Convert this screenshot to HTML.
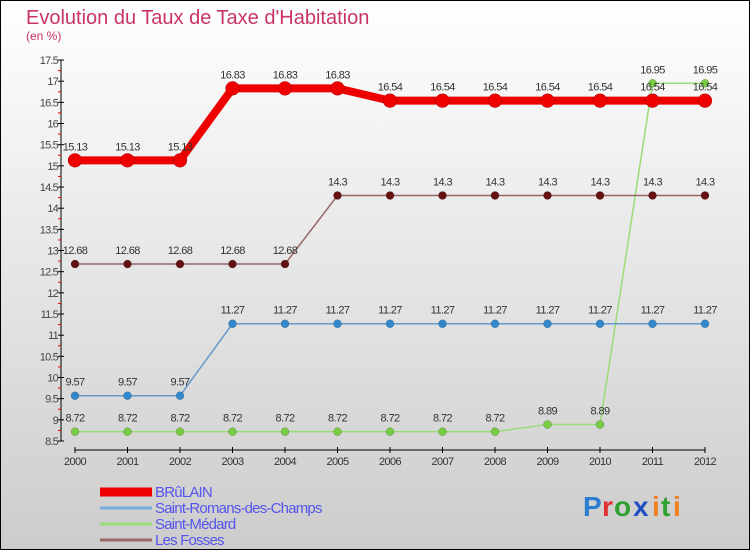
<!DOCTYPE html>
<html><head><meta charset="utf-8"><style>
body{margin:0}
#c{width:750px;height:550px;position:relative;overflow:hidden}
text{font-family:"Liberation Sans",sans-serif}
</style></head><body>
<div id="c">
<svg id="s" width="750" height="550" xmlns="http://www.w3.org/2000/svg">
<defs><linearGradient id="bg" x1="0" y1="0" x2="0" y2="1"><stop offset="0" stop-color="#ffffff"/><stop offset="1" stop-color="#cccccc"/></linearGradient></defs>
<rect x="0.5" y="0.5" width="749" height="549" fill="url(#bg)" stroke="#000"/>
<text x="26" y="24" font-size="20" fill="#c8336a">Evolution du Taux de Taxe d'Habitation</text>
<text x="26" y="40" font-size="12" fill="#c8336a">(en %)</text>
<g id="axes"></g><g id="series"></g><g id="legend"></g>
<g font-size="28" font-weight="bold">
<text x="583" y="516" fill="#2a7fd0">P</text><text x="602" y="516" fill="#e03030">r</text><text x="614" y="516" fill="#30a030">o</text><text x="633" y="516" fill="#2050c0">x</text><text x="652" y="516" fill="#f08020">i</text><text x="661" y="516" fill="#30a030">t</text><text x="673" y="516" fill="#f08020">i</text>
</g>
</svg></div>
<script>
const years=[2000,2001,2002,2003,2004,2005,2006,2007,2008,2009,2010,2011,2012];
const brulain=[15.13,15.13,15.13,16.83,16.83,16.83,16.54,16.54,16.54,16.54,16.54,16.54,16.54];
const romans=[9.57,9.57,9.57,11.27,11.27,11.27,11.27,11.27,11.27,11.27,11.27,11.27,11.27];
const medard=[8.72,8.72,8.72,8.72,8.72,8.72,8.72,8.72,8.72,8.89,8.89,16.95,16.95];
const fosses=[12.68,12.68,12.68,12.68,12.68,14.3,14.3,14.3,14.3,14.3,14.3,14.3,14.3];
const yTicks=[8.5,9,9.5,10,10.5,11,11.5,12,12.5,13,13.5,14,14.5,15,15.5,16,16.5,17,17.5];
const NS="http://www.w3.org/2000/svg";
const xS=i=>75+i*52.5;
const yS=v=>441-(v-8.5)*42.33;
function mk(p,t,a){const e=document.createElementNS(NS,t);for(const k in a)e.setAttribute(k,a[k]);p.appendChild(e);return e;}
const ax=document.getElementById('axes');
let l=mk(ax,'line',{x1:61,y1:yS(17.5),x2:61,y2:yS(8.5),stroke:'#000'});


yTicks.forEach(v=>{
 mk(ax,'line',{x1:58,x2:64,y1:yS(v),y2:yS(v),stroke:'#000'});
 if(v<17.5){mk(ax,'line',{x1:58,x2:61,y1:yS(v+0.25),y2:yS(v+0.25),stroke:'#e00'});}
 const t=mk(ax,'text',{x:58,y:yS(v)+4,'font-size':11,'text-anchor':'end',fill:'#444','letter-spacing':'-0.8'});
 t.textContent=v;
 
 
});
l=mk(ax,'line',{x1:xS(0),x2:xS(12),y1:450,y2:450,stroke:'#000'});


years.forEach((y,i)=>{
 mk(ax,'line',{x1:xS(i),x2:xS(i),y1:447,y2:453,stroke:'#000'});
 const t=mk(ax,'text',{x:xS(i),y:465,'font-size':11,'text-anchor':'middle',fill:'#333','letter-spacing':'-0.6'});
 t.textContent=y;
 
 
});
const sg=document.getElementById('series');
function series(data,name,col,mcol,w,r){
 const g=mk(sg,'g',{});
 
 
 mk(g,'polyline',{points:data.map((v,i)=>xS(i)+','+yS(v)).join(' '),fill:'none',stroke:col,'stroke-width':w});
 data.forEach((v,i)=>{
  const c=mk(g,'circle',{cx:xS(i),cy:yS(v),r:r,fill:mcol,stroke:'rgba(0,0,0,0.3)','stroke-width':0.5});
  
  
  const t=mk(g,'text',{x:xS(i),y:yS(v)-10,'font-size':11,'text-anchor':'middle',fill:'#333','letter-spacing':'-0.6'});
  t.textContent=v;
  
  
 });
}
series(medard,'series-saint-medard','#99dd77','#77cc44',1.5,4);
series(romans,'series-saint-romans','#6699cc','#3388cc',1.5,4);
series(fosses,'series-les-fosses','#996666','#661111',1.5,4);
series(brulain,'series-brulain','#ee0000','#ee0000',8,7);
const lg=document.getElementById('legend');
const names=['BRûLAIN','Saint-Romans-des-Champs','Saint-Médard','Les Fosses'];
const cols=['#ee0000','#77aadd','#99dd77','#996666'];
const ws=[9,3,3,3];
names.forEach((n,i)=>{
 const y=492+i*16;
 const g=mk(lg,'g',{});
 
 
 mk(g,'line',{x1:100,x2:152,y1:y,y2:y,stroke:cols[i],'stroke-width':ws[i]});
 const t=mk(g,'text',{x:155,y:y+5,'font-size':15,fill:'#5555ee','letter-spacing':'-0.8'});
 t.textContent=n;
});
</script></body></html>
